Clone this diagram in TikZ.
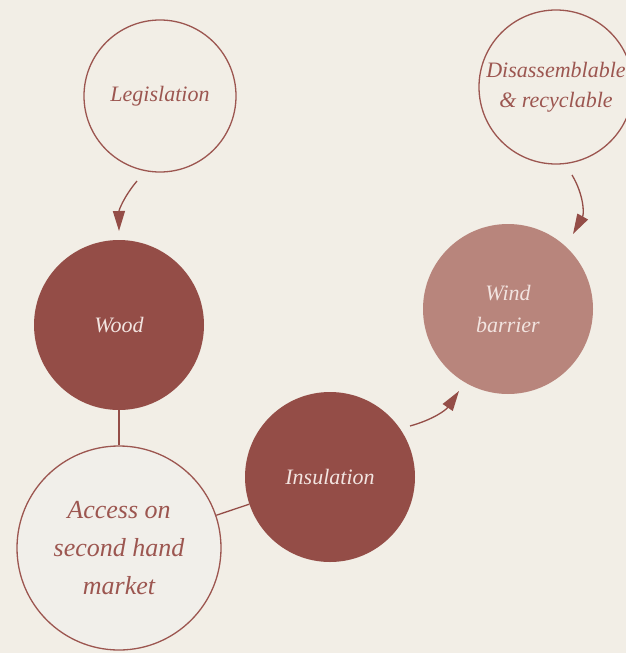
\documentclass[tikz,border=0pt]{standalone}
\usepackage{fontspec}
\setmainfont{Liberation Serif}
\usetikzlibrary{arrows.meta}
\definecolor{bg}{HTML}{F2EEE6}
\definecolor{dark}{HTML}{944D47}
\definecolor{rose}{HTML}{B8857C}
\definecolor{pale}{HTML}{F1EFEA}
\definecolor{ink}{HTML}{9C5650}
\definecolor{light}{HTML}{F2E4E0}
\tikzset{
  base/.style={circle, inner sep=0pt, align=center, font=\itshape\fontsize{22}{31}\selectfont},
  outl/.style={base, draw=ink, line width=1.3pt, fill=bg, text=ink},
  filled/.style={base, fill=dark, text=light},
  conn/.style={draw=dark, line width=1.3pt},
  arr/.style={conn, -{Triangle[length=20pt,width=12pt]}}
}
\begin{document}
\begin{tikzpicture}[x=1pt,y=-1pt]
\useasboundingbox[fill=bg] (0,0) rectangle (626,653);
\node[outl, minimum size=152pt] (leg) at (160,96) {Legislation};
\node[outl, minimum size=154pt, font=\itshape\fontsize{22}{30}\selectfont] (dis) at (556,87) {Disassemblable\\\& recyclable};
\node[filled, minimum size=170pt] (wood) at (119,325) {Wood};
\node[base, fill=rose, text=light, minimum size=170pt, font=\itshape\fontsize{22}{32}\selectfont] (wind) at (508,309) {Wind\\barrier};
\node[filled, minimum size=170pt] (ins) at (330,477) {Insulation};
\node[outl, fill=pale, minimum size=204pt, font=\itshape\fontsize{26}{38}\selectfont] (acc) at (119,548) {Access on\\second hand\\market};
\coordinate (a1s) at (137,181);
\coordinate (a1e) at (119,231);
\coordinate (a2s) at (572,175);
\coordinate (a2e) at (573,234);
\coordinate (a3s) at (410,426);
\coordinate (a3e) at (459,391);
\draw[arr] (a1s) to[bend right=20] (a1e);
\draw[arr] (a2s) to[bend left=30] (a2e);
\draw[arr] (a3s) to[bend right=20] (a3e);
\draw[conn] (wood) -- (acc);
\draw[conn] (acc) -- (ins);
\end{tikzpicture}
\end{document}
